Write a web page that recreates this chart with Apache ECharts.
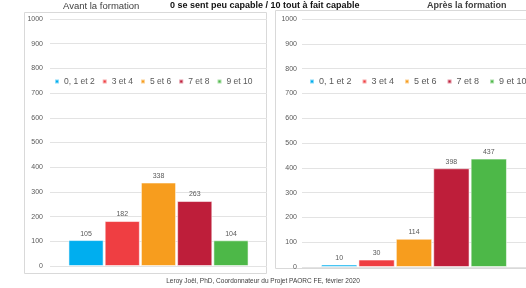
<!DOCTYPE html>
<html>
<head>
<meta charset="utf-8">
<script src="https://cdn.jsdelivr.net/npm/echarts@6/dist/echarts.min.js"></script>
<style>
  html, body { margin: 0; padding: 0; background: #fff; }
  #chart { width: 526px; height: 288px; }
</style>
</head>
<body>
<div id="chart"></div>
<script>
// data
const groups = ['0, 1 et 2', '3 et 4', '5 et 6', '7 et 8', '9 et 10'];
const colors = ['#00AEEF', '#EF3E42', '#F79D1E', '#BE1E3A', '#4DB848'];
const avant = [105, 182, 338, 263, 104];
const apres = [10, 30, 114, 398, 437];
const yTicks = [0, 100, 200, 300, 400, 500, 600, 700, 800, 900, 1000];

const font = 'Liberation Sans, Arial, sans-serif';
let myChart = echarts.init(document.getElementById('chart'));

function makeSeries(values, idx) {
    return values.map(function (v, i) {
        return {
            name: groups[i],
            type: 'bar',
            xAxisIndex: idx,
            yAxisIndex: idx,
            data: [v],
            barGap: '3%',
            barCategoryGap: '17%',
            itemStyle: {
                color: colors[i],
                borderColor: 'rgba(255,255,255,0.55)',
                borderWidth: 1
            },
            label: {
                show: true,
                position: 'top',
                distance: 3,
                fontSize: 7,
                fontFamily: font,
                color: '#595959'
            }
        };
    });
}

function yAxis(idx) {
    return {
        type: 'value',
        gridIndex: idx,
        min: yTicks[0],
        max: yTicks[yTicks.length - 1],
        interval: 100,
        axisLine: { show: false },
        axisTick: { show: false },
        axisLabel: {
            fontSize: 7, fontFamily: font, color: '#595959', margin: idx ? 5 : 7,
            formatter: function (v) { return String(v); }
        },
        splitLine: { lineStyle: { color: '#e3e3e3', width: 1 } }
    };
}

function xAxis(idx) {
    return {
        type: 'category',
        gridIndex: idx,
        data: [''],
        axisLine: { show: false },
        axisTick: { show: false },
        axisLabel: { show: false }
    };
}

function legend(left, gap, size) {
    return {
        data: groups,
        left: left,
        top: 72,
        width: 240,
        itemWidth: 4,
        itemHeight: 4,
        itemGap: gap,
        icon: 'rect',
        textStyle: { fontSize: size, fontFamily: font, color: '#595959' }
    };
}

myChart.setOption({
    animation: false,
    graphic: [
        { type: 'rect', shape: { x: 24.5, y: 12.5, width: 242, height: 261 },
          style: { fill: 'none', stroke: '#d9d9d9', lineWidth: 1 } },
        { type: 'rect', shape: { x: 275.5, y: 10.5, width: 260, height: 258 },
          style: { fill: 'none', stroke: '#d9d9d9', lineWidth: 1 } },
        { type: 'text', left: 63, top: 1,
          style: { text: 'Avant la formation', fontSize: 9.5, fontFamily: font, fill: '#404040' } },
        { type: 'text', left: 170, top: 1,
          style: { text: '0 se sent peu capable / 10 tout à fait capable', fontSize: 9, fontWeight: 'bold', fontFamily: font, fill: '#111' } },
        { type: 'text', left: 427, top: 1,
          style: { text: 'Après la formation', fontSize: 9, fontWeight: 'bold', fontFamily: font, fill: '#404040' } },
        { type: 'text', left: 'center', top: 278,
          style: { text: 'Leroy Joël, PhD, Coordonnateur du Projet PAORC FE, février 2020', fontSize: 6.5, fontFamily: font, fill: '#404040' } }
    ],
    legend: [legend(49, 7, 8.5), legend(304, 10, 9)],
    grid: [
        { left: 50, top: 19, width: 217, height: 247 },
        { left: 302, top: 19, width: 228, height: 248 }
    ],
    xAxis: [xAxis(0), xAxis(1)],
    yAxis: [yAxis(0), yAxis(1)],
    series: makeSeries(avant, 0).concat(makeSeries(apres, 1))
});

window.addEventListener('resize', function () {
    myChart.resize();
});
</script>
</body>
</html>
